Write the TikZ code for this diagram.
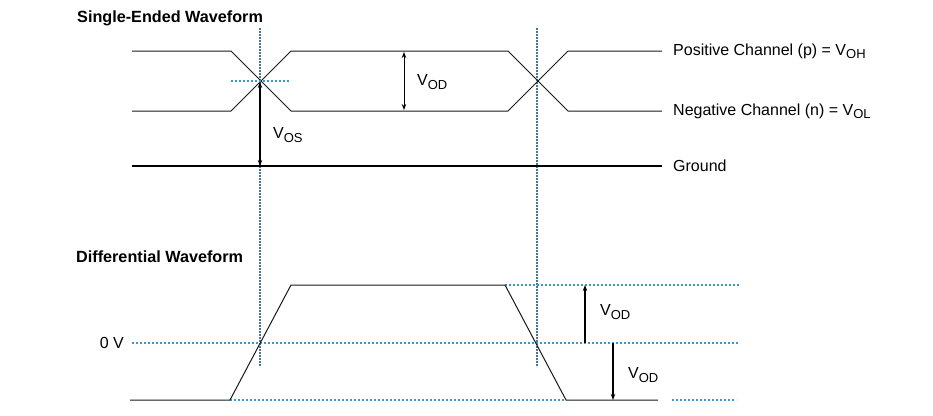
\documentclass[tikz,border=0pt]{standalone}
\usepackage{fontspec}
\setmainfont{Liberation Sans}
\usetikzlibrary{arrows.meta}
\definecolor{guide}{RGB}{70,120,150}
\definecolor{dotblue}{RGB}{60,150,210}
\newcommand\lsub[1]{\raisebox{-0.4ex}{\fontsize{13}{13}\selectfont #1}}
\begin{document}
\begin{tikzpicture}[x=1pt,y=-1pt,
 wave/.style={draw=black!90, line width=1pt},
 gnd/.style={draw=black, line width=1.8pt},
 guideline/.style={draw=guide, line width=1.3pt, dash pattern=on 2pt off 1pt},
 dotline/.style={draw=dotblue, line width=1.1pt, dash pattern=on 2pt off 2pt},
 meas/.style={draw=black, line width=1.6pt},
 thinmeas/.style={draw=black, line width=0.9pt},
 lbl/.style={font=\fontsize{16}{18}\selectfont, anchor=west, inner sep=0pt},
 ttl/.style={font=\bfseries\fontsize{16.2}{18}\selectfont, anchor=west, inner sep=0pt}]
\useasboundingbox (0,0) rectangle (933,415);
% titles
\node[ttl] (t1) at (77,18) {Single-Ended Waveform};
\node[ttl] (t2) at (76,257) {Differential Waveform};
% guide lines
\coordinate (g1a) at (260,28); \coordinate (g1b) at (260,367);
\coordinate (g2a) at (537,28); \coordinate (g2b) at (537,367);
\draw[guideline] (g1a) -- (g1b);
\draw[guideline] (g2a) -- (g2b);
% single-ended
\draw[wave] (132,51) -- (231,51) -- (291,111) -- (508,111) -- (568,51) -- (662,51);
\draw[wave] (132,111) -- (231,111) -- (291,51) -- (508,51) -- (568,111) -- (662,111);
\draw[gnd] (132,166) -- (662,166);
\draw[dotline] (231,81) -- (291,81);
\coordinate (cross) at (260,82); \coordinate (gndpt) at (260,166);
\draw[meas, {Stealth[length=6pt,width=4.5pt]}-{Stealth[length=6pt,width=4.5pt]}] (cross) -- (gndpt);
\node[lbl] (vos) at (273,135) {V\lsub{OS}};
\coordinate (pa) at (404,52); \coordinate (na) at (404,110);
\draw[thinmeas, {Stealth[length=6pt,width=4.5pt]}-{Stealth[length=6pt,width=4.5pt]}] (pa) -- (na);
\node[lbl] (vod1) at (417,82) {V\lsub{OD}};
\node[lbl] (pos) at (673,51) {Positive Channel (p) = V\lsub{OH}};
\node[lbl] (neg) at (673,111) {Negative Channel (n) = V\lsub{OL}};
\node[lbl] (gnd) at (673,166) {Ground};
% differential
\draw[dotline] (132,343) -- (738,343);
\draw[dotline] (505,285) -- (740,285);
\draw[dotline] (230,400) -- (566,400);
\draw[dotline] (672,400) -- (736,400);
\draw[wave] (130,400) -- (230,400) -- (291,285) -- (505,285) -- (566,400) -- (658,400);
\node[lbl, anchor=east] (zero) at (124,343) {0 V};
\coordinate (z1) at (585,343); \coordinate (h1) at (585,285);
\coordinate (z2) at (613,343); \coordinate (l2) at (613,400);
\draw[meas, -{Stealth[length=6pt,width=4.5pt]}] (z1) -- (h1);
\draw[meas, -{Stealth[length=6pt,width=4.5pt]}] (z2) -- (l2);
\node[lbl] (vod2) at (600,312) {V\lsub{OD}};
\node[lbl] (vod3) at (628,375) {V\lsub{OD}};
\end{tikzpicture}
\end{document}
